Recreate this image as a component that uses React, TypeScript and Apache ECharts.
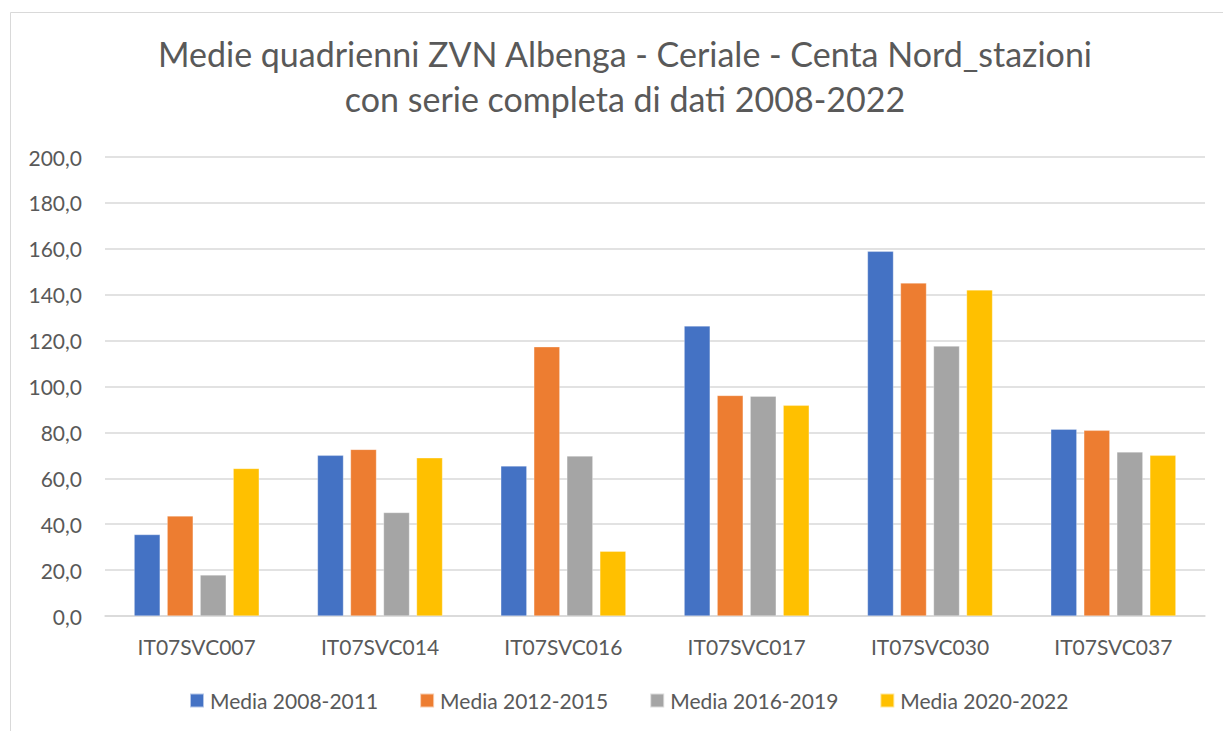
import React, { useEffect, useRef } from "react";
import * as echarts from "echarts";

const titleLines = [
  "Medie quadrienni ZVN Albenga - Ceriale - Centa Nord_stazioni",
  "con serie completa di dati 2008-2022",
];
const categories = ["IT07SVC007", "IT07SVC014", "IT07SVC016", "IT07SVC017", "IT07SVC030", "IT07SVC037"];
const seriesNames = ["Media 2008-2011", "Media 2012-2015", "Media 2016-2019", "Media 2020-2022"];
const media2008_2011 = [35.5, 70.0, 65.4, 126.4, 158.9, 81.4];
const media2012_2015 = [43.6, 72.6, 117.3, 96.1, 145.1, 80.9];
const media2016_2019 = [17.9, 45.1, 69.7, 95.8, 117.6, 71.5];
const media2020_2022 = [64.3, 68.9, 28.2, 91.8, 142.1, 70.0];
const colors = ["#4472C4", "#ED7D31", "#A5A5A5", "#FFC000"];

const FONT = "Lato";
const TEXT = "#595959";

export default function App() {
  const ref = useRef<HTMLDivElement>(null);
  useEffect(() => {
    if (!ref.current) return;
    const chart = echarts.init(ref.current, undefined, { renderer: "svg" });
    const values = [media2008_2011, media2012_2015, media2016_2019, media2020_2022];
    chart.setOption({
      animation: false,
      backgroundColor: "#ffffff",
      color: colors,
      title: {
        text: titleLines.join("\n"),
        left: 620,
        top: 26,
        textAlign: "center",
        textStyle: {
          fontFamily: FONT,
          fontSize: 34,
          fontWeight: "normal",
          color: TEXT,
          lineHeight: 45,
        },
      },
      graphic: [
        {
          type: "rect",
          shape: { x: 10.5, y: 12.5, width: 1240, height: 740 },
          style: { fill: "none", stroke: "#d9d9d9", lineWidth: 1 },
          silent: true,
        },
      ],
      legend: {
        left: 184,
        top: 685,
        itemWidth: 14,
        itemHeight: 14,
        itemGap: 41,
        icon: "rect",
        textStyle: { fontFamily: FONT, fontSize: 21, color: TEXT, padding: [0, 0, 0, 1] },
        data: seriesNames,
      },
      grid: { left: 105, right: 18, top: 157, bottom: 115 },
      xAxis: {
        type: "category",
        data: categories,
        axisLine: { lineStyle: { color: "#d9d9d9", width: 1.5 } },
        axisTick: { show: false },
        axisLabel: { fontFamily: FONT, fontSize: 21, color: TEXT, margin: 20 },
      },
      yAxis: {
        type: "value",
        min: 0,
        max: 200,
        interval: 20,
        axisLine: { show: false },
        axisTick: { show: false },
        splitLine: { lineStyle: { color: "#d9d9d9", width: 1.5 } },
        axisLabel: {
          fontFamily: FONT,
          fontSize: 21,
          color: TEXT,
          margin: 23,
          formatter: (v: number) => v.toFixed(1).replace(".", ","),
        },
      },
      series: seriesNames.map((name, i) => ({
        name,
        type: "bar",
        data: values[i],
        barWidth: 26,
        barGap: "27%",
        itemStyle: { color: colors[i], borderColor: "rgba(255,255,255,0.6)", borderWidth: 0.5 },
      })),
    });
    return () => chart.dispose();
  }, []);
  return (
    <div
      ref={ref}
      style={{ position: "fixed", left: 0, top: 0, width: 1223, height: 731 }}
    />
  );
}
